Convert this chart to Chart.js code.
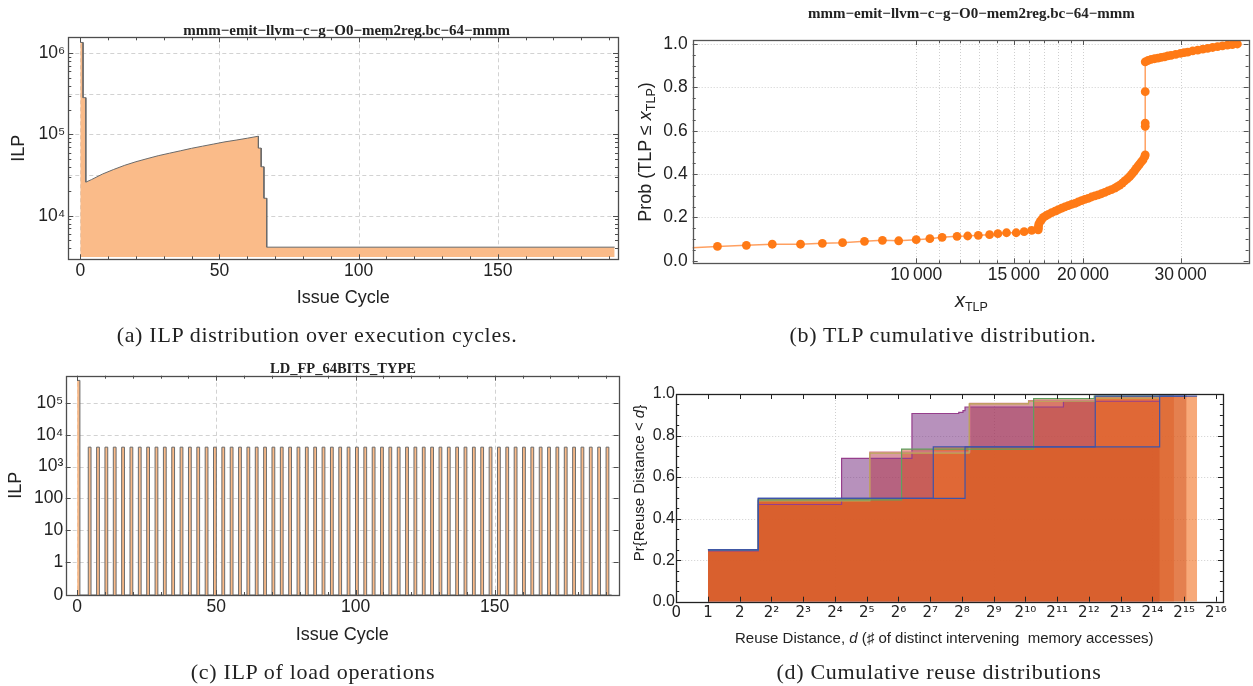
<!DOCTYPE html>
<html><head><meta charset="utf-8">
<script src="https://cdn.jsdelivr.net/npm/chart.js@4.4.1/dist/chart.umd.min.js"></script>
<style>
html,body{margin:0;padding:0;background:#fff}
body{width:1253px;height:686px;position:relative;overflow:hidden;font-family:'Liberation Sans',Arial,sans-serif;color:#222}
canvas{position:absolute;display:block}
.t{position:absolute;white-space:nowrap;transform:translate(-50%,-50%);line-height:1}
.cap{font-family:'Liberation Serif','DejaVu Serif',serif;font-size:22px;letter-spacing:0.7px;color:#222}
.ttl{font-family:'Liberation Serif','DejaVu Serif',serif;font-weight:bold;font-size:15px;color:#222}
.rot{transform:translate(-50%,-50%) rotate(-90deg)}
.ax{font-family:'Liberation Sans',Arial,sans-serif;color:#222}
.ax sub{font-size:12.5px;vertical-align:-4px;line-height:0}
</style></head>
<body>
<canvas id="ca" width="625" height="320" style="left:0;top:0"></canvas>
<canvas id="cb" width="628" height="320" style="left:625px;top:0"></canvas>
<canvas id="cc" width="625" height="366" style="left:0;top:320px"></canvas>
<canvas id="cd" width="628" height="366" style="left:625px;top:320px"></canvas>

<div class="t ttl" style="left:346.6px;top:30px">mmm−emit−llvm−c−g−O0−mem2reg.bc−64−mmm</div>
<div class="t ttl" style="left:971.4px;top:12.7px">mmm−emit−llvm−c−g−O0−mem2reg.bc−64−mmm</div>
<div class="t ttl" style="left:343px;top:368.3px;font-size:14.5px">LD_FP_64BITS_TYPE</div>

<div class="t ax rot" style="left:645px;top:151.5px;font-size:18px">Prob (TLP ≤ <i>x</i><sub>TLP</sub>)</div>
<div class="t ax" style="left:971.4px;top:300px;font-size:20px"><i>x</i><sub>TLP</sub></div>
<div class="t ax rot" style="left:638.3px;top:483px;font-size:15px">Pr{Reuse Distance &lt; <i>d</i>}</div>
<div class="t ax" style="left:944.3px;top:636.7px;font-size:15px">Reuse Distance, <i>d</i> (♯ of distinct intervening&nbsp; memory accesses)</div>

<div class="t cap" style="left:317px;top:335px">(a) ILP distribution over execution cycles.</div>
<div class="t cap" style="left:943px;top:335px">(b) TLP cumulative distribution.</div>
<div class="t cap" style="left:313px;top:671.7px">(c) ILP of load operations</div>
<div class="t cap" style="left:939px;top:671.7px">(d) Cumulative reuse distributions</div>

<script>
// ===================== DATA =====================
// (a) ILP distribution over execution cycles
const ilpCycle = [0, 1, 1, 2, 2, 4, 8, 12, 16, 20, 24, 28, 32, 36, 40, 44, 48, 52, 56, 60, 64, 64, 65, 65, 66, 66, 67, 67, 192];
const ilpValue = [1360000, 1360000, 284000, 284000, 25900, 27800, 32600, 37100, 41800, 46200, 50400, 54800, 58800, 63000, 67600, 71900, 76400, 81200, 85300, 90000, 95300, 68000, 68000, 40000, 40000, 16400, 16400, 4096, 4096];
const ilpXTicks = [0, 50, 100, 150];
const ilpXMinor = [10, 20, 30, 40, 60, 70, 80, 90, 110, 120, 130, 140, 160, 170, 180, 190];
const ilpYTicks = [10000, 100000, 1000000];
const ilpYLabels = ['10⁴', '10⁵', '10⁶'];
const ilpYMinor = [3000, 4000, 5000, 6000, 7000, 8000, 9000, 20000, 30000, 40000, 50000, 60000, 70000, 80000, 90000, 200000, 300000, 400000, 500000, 600000, 700000, 800000, 900000];
const ilpYGrid = [10000, 31623, 100000, 316228, 1000000];

// (b) TLP cumulative distribution
const tlpX = [3600, 4378, 4937, 5498, 6183, 6770, 7364, 8065, 8690, 9297, 10000, 10583, 11136, 11849, 12386, 12945, 13564, 14040, 14555, 15150, 15660, 16160,
  16600, 16610, 16620, 16650, 16730, 16840, 16960, 17130, 17320, 17560, 17810, 18050, 18300, 18550, 18810, 19070, 19340, 19610, 19880, 20150,
  20430, 20720, 21010, 21300, 21590, 21890, 22200, 22510, 22820, 23060, 23300, 23550, 23790, 24040, 24280, 24450, 24620, 24790, 24950, 25130,
  25300, 25480, 25660, 25840,
  25900, 25900, 25900, 25900, 25900,
  26220, 26550, 26920, 27300, 27680, 28070, 28450, 28840, 29400, 29990, 30440, 30900, 31550, 32210, 32900, 33570, 34270, 34980, 35700, 36440, 37200, 37990];
const tlpProb = [0.055, 0.066, 0.071, 0.076, 0.076, 0.080, 0.083, 0.0895, 0.094, 0.092, 0.097, 0.1015, 0.108, 0.1126, 0.114, 0.117, 0.120, 0.1246, 0.129, 0.129, 0.134, 0.140,
  0.142, 0.150, 0.160, 0.170, 0.180, 0.190, 0.200, 0.207, 0.214, 0.222, 0.229, 0.236, 0.242, 0.248, 0.254, 0.260, 0.265, 0.271, 0.277, 0.283,
  0.288, 0.294, 0.299, 0.304, 0.309, 0.315, 0.322, 0.328, 0.335, 0.342, 0.349, 0.358, 0.368, 0.378, 0.388, 0.397, 0.406, 0.416, 0.426, 0.436,
  0.446, 0.456, 0.465, 0.480,
  0.488, 0.620, 0.635, 0.780, 0.918,
  0.924, 0.929, 0.932, 0.935, 0.938, 0.941, 0.945, 0.948, 0.952, 0.957, 0.960, 0.963, 0.968, 0.972, 0.976, 0.980, 0.984, 0.988, 0.991, 0.995, 0.997, 1.0];
const tlpXTicks = [10000, 11000, 12000, 13000, 14000, 15000, 16000, 17000, 18000, 19000, 20000, 30000];
const tlpXLabels = ['10\u2009000', '', '', '', '', '15\u2009000', '', '', '', '', '20\u2009000', '30\u2009000'];
const tlpXMajor = [10000, 15000, 20000, 30000];
const tlpYTicks = [0, 0.2, 0.4, 0.6, 0.8, 1.0];
const tlpYLabels = ['0.0', '0.2', '0.4', '0.6', '0.8', '1.0'];
const tlpYMinor = [0.05, 0.1, 0.15, 0.25, 0.3, 0.35, 0.45, 0.5, 0.55, 0.65, 0.7, 0.75, 0.85, 0.9, 0.95];

// (c) ILP of load operations (LD_FP_64BITS_TYPE): one-cycle bars, ILP 0 elsewhere
const ldBarCycle = [0, 4, 7, 10, 13, 16, 19, 22, 25, 28, 31, 34, 37, 40, 43, 46, 49, 52, 55, 58, 61, 64, 67, 70, 73, 76, 79, 82, 85, 88, 91, 94, 97,
  100, 103, 106, 109, 112, 115, 118, 121, 124, 127, 130, 133, 136, 139, 142, 145, 148, 151, 154, 157, 160, 163, 166, 169, 172, 175, 178, 181, 184, 187, 190];
const ldBarIlp = [520000,
  4096, 4096, 4096, 4096, 4096, 4096, 4096, 4096, 4096,
  4096, 4096, 4096, 4096, 4096, 4096, 4096, 4096, 4096,
  4096, 4096, 4096, 4096, 4096, 4096, 4096, 4096, 4096,
  4096, 4096, 4096, 4096, 4096, 4096, 4096, 4096, 4096,
  4096, 4096, 4096, 4096, 4096, 4096, 4096, 4096, 4096,
  4096, 4096, 4096, 4096, 4096, 4096, 4096, 4096, 4096,
  4096, 4096, 4096, 4096, 4096, 4096, 4096, 4096, 4096];
const ldGapIlp = 0;
const ldLastCycle = 192;
const ldYZero = 0.09;   // axis position that carries the "0" label
const ldYTicks = [ldYZero, 1, 10, 100, 1000, 10000, 100000];
const ldYLabels = ['0', '1', '10', '100', '10³', '10⁴', '10⁵'];

// (d) Cumulative reuse distributions
const rdXTicks = [0.5, 1, 2, 4, 8, 16, 32, 64, 128, 256, 512, 1024, 2048, 4096, 8192, 16384, 32768, 65536];
const rdXLabels = ['0', '1', '2', '2²', '2³', '2⁴', '2⁵', '2⁶', '2⁷', '2⁸', '2⁹', '2¹⁰', '2¹¹', '2¹²', '2¹³', '2¹⁴', '2¹⁵', '2¹⁶'];
const rdYTicks = [0, 0.2, 0.4, 0.6, 0.8, 1.0];
const rdYLabels = ['0.0', '0.2', '0.4', '0.6', '0.8', '1.0'];
const rdPurpleD = [1, 3, 18.5, 86, 239, 262, 274, 2350, 19200];
const rdPurpleP = [0.245, 0.468, 0.69, 0.906, 0.912, 0.92, 0.9375, 0.965, 0.965];
const rdPinkD = [1, 3, 34.3, 304, 1097, 4705, 19200];
const rdPinkP = [0.25, 0.488, 0.72, 0.955, 0.968, 0.985, 0.985];
const rdOliveD = [1, 3, 34.3, 300, 1097, 4705, 19200];
const rdOliveP = [0.25, 0.485, 0.715, 0.952, 0.965, 0.98, 0.98];
const rdGreenD = [1, 3, 68.6, 1226, 4600, 26250];
const rdGreenP = [0.25, 0.49, 0.735, 0.978, 0.99, 0.99];
const rdBlueAD = [1, 3, 137, 4705, 43500];
const rdBlueAP = [0.25, 0.497, 0.745, 0.99, 0.99];
const rdBlueBD = [1, 3, 274, 19200, 34600];
const rdBlueBP = [0.25, 0.497, 0.745, 0.99, 0.99];

// ===================== HELPERS =====================
Chart.defaults.font.family = "'Liberation Sans', Arial, sans-serif";
Chart.defaults.color = '#222';

const pts = (xs, ys) => xs.map((x, i) => ({x: x, y: ys[i]}));

function fixX(h) { return s => { s.height = h; s.paddingLeft = 0; s.paddingRight = 0; s.paddingTop = 0; s.paddingBottom = 0; }; }
function fixY(w) { return s => { s.width = w; s.paddingLeft = 0; s.paddingRight = 0; s.paddingTop = 0; s.paddingBottom = 0; }; }

function axis(o) {
  const font = {size: o.size};
  if (o.family) font.family = o.family;
  const a = {
    type: o.type, min: o.min, max: o.max,
    grid: {display: false, drawTicks: false},
    border: {display: false},
    ticks: {autoSkip: false, maxRotation: 0, minRotation: 0, padding: o.pad, color: '#222',
      font: font, callback: (v, i) => o.labels[i]},
    afterBuildTicks: s => { s.ticks = o.ticks.map(v => ({value: v})); },
    afterFit: o.fit
  };
  if (o.title) a.title = o.title;
  return a;
}

const framePlugin = (cfg) => ({
  id: 'mframe',
  beforeDraw(chart) {
    const {ctx, chartArea: a} = chart;
    const xs = chart.scales.x, ys = chart.scales.y;
    ctx.save();
    ctx.beginPath(); ctx.rect(a.left, a.top, a.right - a.left, a.bottom - a.top); ctx.clip();
    ctx.strokeStyle = cfg.gridColor; ctx.lineWidth = 1; ctx.setLineDash(cfg.gridDash);
    ctx.beginPath();
    (cfg.gridX || []).forEach(v => { const p = Math.round(xs.getPixelForValue(v)) + 0.5; ctx.moveTo(p, a.top); ctx.lineTo(p, a.bottom); });
    (cfg.gridY || []).forEach(v => { const p = Math.round(ys.getPixelForValue(v)) + 0.5; ctx.moveTo(a.left, p); ctx.lineTo(a.right, p); });
    ctx.stroke();
    ctx.restore();
  },
  afterDraw(chart) {
    const {ctx, chartArea: a} = chart;
    const xs = chart.scales.x, ys = chart.scales.y;
    const L = a.left, R = a.right, T = a.top, B = a.bottom;
    ctx.save();
    ctx.strokeStyle = cfg.frame; ctx.lineWidth = 1; ctx.setLineDash([]);
    ctx.beginPath();
    const tick = (vals, len, ax) => (vals || []).forEach(v => {
      if (ax === 'x') {
        const p = Math.round(xs.getPixelForValue(v)) + 0.5;
        if (p < L + 1 || p > R - 1) return;
        ctx.moveTo(p, B); ctx.lineTo(p, B - len); ctx.moveTo(p, T); ctx.lineTo(p, T + len);
      } else {
        const p = Math.round(ys.getPixelForValue(v)) + 0.5;
        if (p < T + 1 || p > B - 1) return;
        ctx.moveTo(L, p); ctx.lineTo(L + len, p); ctx.moveTo(R, p); ctx.lineTo(R - len, p);
      }
    });
    tick(cfg.xMajor, 5, 'x'); tick(cfg.xMinor, 3, 'x');
    tick(cfg.yMajor, 5, 'y'); tick(cfg.yMinor, 3, 'y');
    ctx.stroke();
    ctx.lineWidth = 1.3;
    ctx.strokeRect(Math.round(L) + 0.5, Math.round(T) + 0.5, Math.round(R - L), Math.round(B - T));
    ctx.restore();
  }
});

const base = {
  responsive: false, animation: false, devicePixelRatio: 1, events: [],
  plugins: {legend: {display: false}, tooltip: {enabled: false}}
};

// ===================== (a) =====================
new Chart(document.getElementById('ca'), {
  type: 'line',
  data: {datasets: [{
    data: pts(ilpCycle, ilpValue),
    borderColor: '#6a6a6a', borderWidth: 1, backgroundColor: 'rgb(250,187,137)',
    fill: {value: 3090}, pointRadius: 0, tension: 0
  }]},
  options: Object.assign({}, base, {
    layout: {padding: {top: 37.3, right: 7, left: 0, bottom: 0}},
    scales: {
      x: axis({type: 'linear', min: -4.3, max: 193.2, ticks: ilpXTicks, labels: ilpXTicks.map(String), pad: 1, size: 17.5, fit: fixX(60.7),
        title: {display: true, text: 'Issue Cycle', color: '#222', font: {size: 18}, padding: {top: 0, bottom: 10.9}}}),
      y: axis({type: 'logarithmic', min: 2904, max: 1574000, ticks: ilpYTicks, labels: ilpYLabels, pad: 3, size: 17.5, fit: fixY(68.3),
        title: {display: true, text: 'ILP', color: '#222', font: {size: 18}, padding: {top: 8, bottom: 0}}})
    }
  }),
  plugins: [framePlugin({frame: '#4d4d4d', gridColor: '#d2d2d2', gridDash: [4, 3],
    gridX: ilpXTicks, gridY: ilpYGrid, xMajor: ilpXTicks, xMinor: ilpXMinor, yMajor: ilpYTicks, yMinor: ilpYMinor})]
});

// ===================== (b) =====================
new Chart(document.getElementById('cb'), {
  type: 'line',
  data: {datasets: [{
    data: pts(tlpX, tlpProb),
    borderColor: 'rgba(255,150,80,0.9)', borderWidth: 1.5,
    pointRadius: 4.4, pointBorderWidth: 0, pointBackgroundColor: 'rgb(255,122,22)',
    fill: false, tension: 0
  }]},
  options: Object.assign({}, base, {
    layout: {padding: {top: 40, right: 2, left: 0, bottom: 0}},
    scales: {
      x: axis({type: 'logarithmic', min: 3950, max: 39800, ticks: tlpXTicks, labels: tlpXLabels, pad: 1, size: 17.5, fit: fixX(56.7)}),
      y: axis({type: 'linear', min: -0.012, max: 1.0185, ticks: tlpYTicks, labels: tlpYLabels, pad: 5, size: 17.5, fit: fixY(67.7)})
    }
  }),
  plugins: [framePlugin({frame: '#555', gridColor: '#cfcfcf', gridDash: [1, 2],
    gridX: tlpXTicks, gridY: [0.2, 0.4, 0.6, 0.8, 1.0], xMajor: tlpXMajor, xMinor: tlpXTicks, yMajor: tlpYTicks, yMinor: tlpYMinor})]
});

// ===================== (c) =====================
// a zero ILP sits on the axis position labelled "0"
const ldY = v => (v === 0 ? ldYZero : v);
const ldPts = [];
ldBarCycle.forEach((c, i) => { ldPts.push({x: c, y: ldY(ldBarIlp[i])}); ldPts.push({x: c + 1, y: ldY(ldGapIlp)}); });
ldPts.push({x: ldLastCycle, y: ldY(ldGapIlp)});
new Chart(document.getElementById('cc'), {
  type: 'line',
  data: {datasets: [{
    data: ldPts, stepped: 'before',
    borderColor: '#6a6a6a', borderWidth: 1, backgroundColor: 'rgb(250,187,137)',
    fill: 'start', pointRadius: 0
  }]},
  options: Object.assign({}, base, {
    layout: {padding: {top: 55.7, right: 6.4, left: 0, bottom: 0}},
    scales: {
      x: axis({type: 'linear', min: -4.1, max: 194.5, ticks: ilpXTicks, labels: ilpXTicks.map(String), pad: 1.2, size: 17.5, fit: fixX(91),
        title: {display: true, text: 'Issue Cycle', color: '#222', font: {size: 18}, padding: {top: 0, bottom: 40.2}}}),
      y: axis({type: 'logarithmic', min: ldYZero, max: 730000, ticks: ldYTicks, labels: ldYLabels, pad: 2.4, size: 17.5, fit: fixY(65.7),
        title: {display: true, text: 'ILP', color: '#222', font: {size: 18}, padding: {top: 5, bottom: 0}}})
    }
  }),
  plugins: [framePlugin({frame: '#4d4d4d', gridColor: '#d2d2d2', gridDash: [4, 3],
    gridX: ilpXTicks, gridY: [1, 10, 100, 1000, 10000, 100000], xMajor: ilpXTicks, xMinor: ilpXMinor, yMajor: ldYTicks})]
});

// ===================== (d) =====================
const rdSeries = [
  {d: rdBlueBD, p: rdBlueBP, line: 'rgb(62,84,170)', fill: 'rgba(209,87,37,0.5)'},
  {d: rdBlueAD, p: rdBlueAP, line: 'rgb(62,84,170)', fill: 'rgba(242,112,32,0.6)'},
  {d: rdGreenD, p: rdGreenP, line: 'rgb(95,160,95)', fill: 'rgba(218,90,50,0.5)'},
  {d: rdOliveD, p: rdOliveP, line: 'rgb(186,170,85)', fill: 'rgba(181,55,72,0.3)'},
  {d: rdPinkD, p: rdPinkP, line: 'rgb(214,120,140)', fill: 'rgba(181,55,72,0.3)'},
  {d: rdPurpleD, p: rdPurpleP, line: 'rgb(150,62,140)', fill: 'rgba(111,35,121,0.5)'}
];
new Chart(document.getElementById('cd'), {
  type: 'line',
  data: {datasets: rdSeries.map(s => ({
    data: pts(s.d, s.p), stepped: 'before',
    borderColor: s.line, borderWidth: 1.2, backgroundColor: s.fill,
    fill: 'origin', pointRadius: 0
  }))},
  options: Object.assign({}, base, {
    plugins: {legend: {display: false}, tooltip: {enabled: false}, filler: {drawTime: 'beforeDatasetsDraw'}},
    layout: {padding: {top: 74, right: 30.1, left: 0, bottom: 0}},
    scales: {
      x: axis({type: 'logarithmic', min: 0.5, max: 76400, ticks: rdXTicks, labels: rdXLabels, pad: 2, size: 15, family: "'DejaVu Sans', 'Liberation Sans', sans-serif", fit: fixX(84.3)}),
      y: axis({type: 'linear', min: 0, max: 1, ticks: rdYTicks, labels: rdYLabels, pad: 1.2, size: 16, fit: fixY(51.2)})
    }
  }),
  plugins: [framePlugin({frame: '#222', gridColor: '#cfcfcf', gridDash: [1, 2],
    gridX: [16, 512, 16384], gridY: [0.2, 0.4, 0.6, 0.8], xMajor: rdXTicks, yMajor: rdYTicks, yMinor: tlpYMinor})]
});
</script>
</body></html>
